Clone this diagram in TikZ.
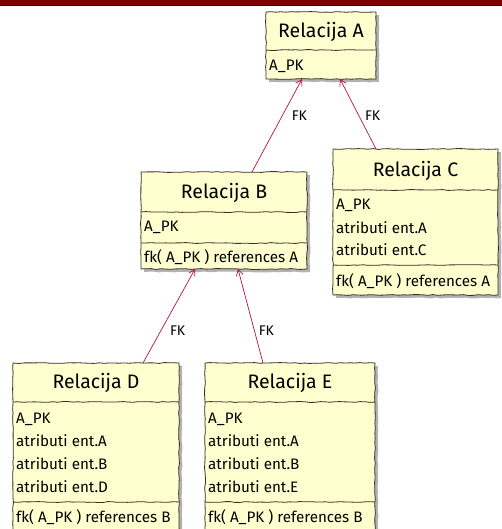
\documentclass[tikz,border=0pt]{standalone}
\usepackage{fontspec}
\setmainfont{Fira Sans}
\usetikzlibrary{arrows.meta,decorations.pathmorphing,shadows}

\definecolor{boxfill}{HTML}{FEFECE}
\definecolor{boxline}{HTML}{3B2E26}
\definecolor{fkred}{HTML}{B8124F}
\definecolor{barred}{HTML}{7D0000}

\tikzset{
  sketchy/.style={decorate, decoration={random steps, segment length=5pt, amplitude=0.45pt}},
  relbox/.style={sketchy, draw=boxline, fill=boxfill, line width=0.8pt,
    inner sep=0pt, outer sep=0pt, anchor=north west,
    drop shadow={shadow xshift=3pt, shadow yshift=-3pt, opacity=0.3, fill=black}},
  divline/.style={sketchy, draw=boxline, line width=0.8pt},
  reltitle/.style={font=\fontsize{19.5}{21}\selectfont, inner sep=0pt, text=black},
  attr/.style={font=\fontsize{15.2}{17}\selectfont, inner sep=0pt, anchor=west, text=black},
  fkarrow/.style={draw=fkred, line width=0.7pt, -{Straight Barb[length=6pt,width=7pt]}},
  fklabel/.style={font=\fontsize{14}{16}\selectfont, inner sep=0pt, anchor=west, text=black}
}

\begin{document}
\begin{tikzpicture}[x=1pt,y=-1pt]
\pgfmathsetseed{11}
\useasboundingbox (0,0) rectangle (502,529);
\clip (0,0) rectangle (502,529);
\fill[white] (0,0) rectangle (502,529);
% header strip
\fill[barred] (0,0) rectangle (502,5.5);
\draw[black!70!barred, line width=0.6pt] (0,5.5) -- (502,5.5);

% Relacija A
\node[relbox, minimum width=110pt, minimum height=67pt] (A) at (266,12) {};
\draw[divline] ([yshift=-38pt]A.north west) -- ([yshift=-38pt]A.north east);
\node[reltitle] (At) at ([yshift=-20pt]A.north) {Relacija A};
\node[attr] (A1) at ([xshift=3pt,yshift=-54pt]A.north west) {A\_PK};

% Relacija B
\node[relbox, minimum width=166pt, minimum height=97pt] (B) at (141,172) {};
\draw[divline] ([yshift=-40pt]B.north west) -- ([yshift=-40pt]B.north east);
\draw[divline] ([yshift=-71pt]B.north west) -- ([yshift=-71pt]B.north east);
\node[reltitle] (Bt) at ([yshift=-21pt]B.north) {Relacija B};
\node[attr] (B1) at ([xshift=3pt,yshift=-55pt]B.north west) {A\_PK};
\node[attr] (B2) at ([xshift=3pt,yshift=-85pt]B.north west) {fk( A\_PK ) references A};

% Relacija C
\node[relbox, minimum width=165pt, minimum height=146pt] (C) at (333,149) {};
\draw[divline] ([yshift=-41pt]C.north west) -- ([yshift=-41pt]C.north east);
\draw[divline] ([yshift=-116pt]C.north west) -- ([yshift=-116pt]C.north east);
\node[reltitle] (Ct) at ([yshift=-22pt]C.north) {Relacija C};
\node[attr] (C1) at ([xshift=3pt,yshift=-56pt]C.north west) {A\_PK};
\node[attr] (C2) at ([xshift=3pt,yshift=-79pt]C.north west) {atributi ent.A};
\node[attr] (C3) at ([xshift=3pt,yshift=-101pt]C.north west) {atributi ent.C};
\node[attr] (C4) at ([xshift=3pt,yshift=-132pt]C.north west) {fk( A\_PK ) references A};

% Relacija D
\node[relbox, minimum width=166pt, minimum height=190pt] (D) at (13,363) {};
\draw[divline] ([yshift=-39pt]D.north west) -- ([yshift=-39pt]D.north east);
\draw[divline] ([yshift=-139pt]D.north west) -- ([yshift=-139pt]D.north east);
\node[reltitle] (Dt) at ([yshift=-20pt]D.north) {Relacija D};
\node[attr] (D1) at ([xshift=3pt,yshift=-56pt]D.north west) {A\_PK};
\node[attr] (D2) at ([xshift=3pt,yshift=-78pt]D.north west) {atributi ent.A};
\node[attr] (D3) at ([xshift=3pt,yshift=-101pt]D.north west) {atributi ent.B};
\node[attr] (D4) at ([xshift=3pt,yshift=-124pt]D.north west) {atributi ent.D};
\node[attr] (D5) at ([xshift=3pt,yshift=-154pt]D.north west) {fk( A\_PK ) references B};

% Relacija E
\node[relbox, minimum width=170pt, minimum height=190pt] (E) at (205,363) {};
\draw[divline] ([yshift=-39pt]E.north west) -- ([yshift=-39pt]E.north east);
\draw[divline] ([yshift=-139pt]E.north west) -- ([yshift=-139pt]E.north east);
\node[reltitle] (Et) at ([yshift=-20pt]E.north) {Relacija E};
\node[attr] (E1) at ([xshift=3pt,yshift=-56pt]E.north west) {A\_PK};
\node[attr] (E2) at ([xshift=3pt,yshift=-78pt]E.north west) {atributi ent.A};
\node[attr] (E3) at ([xshift=3pt,yshift=-101pt]E.north west) {atributi ent.B};
\node[attr] (E4) at ([xshift=3pt,yshift=-124pt]E.north west) {atributi ent.E};
\node[attr] (E5) at ([xshift=3pt,yshift=-154pt]E.north west) {fk( A\_PK ) references B};

% foreign key references
\draw[fkarrow] ([xshift=28pt]B.north) -- ([xshift=-19pt]A.south)
  node[fklabel, pos=0.61, xshift=9pt] (l1) {FK};
\draw[fkarrow] ([xshift=-39.5pt]C.north) -- ([xshift=19pt]A.south)
  node[fklabel, pos=0.48, xshift=6pt] (l2) {FK};
\draw[fkarrow] ([xshift=47pt]D.north) -- ([xshift=-29pt]B.south)
  node[fklabel, pos=0.34, xshift=9pt] (l3) {FK};
\draw[fkarrow] ([xshift=-27pt]E.north) -- ([xshift=14pt]B.south)
  node[fklabel, pos=0.34, xshift=4pt] (l4) {FK};
\end{tikzpicture}
\end{document}
